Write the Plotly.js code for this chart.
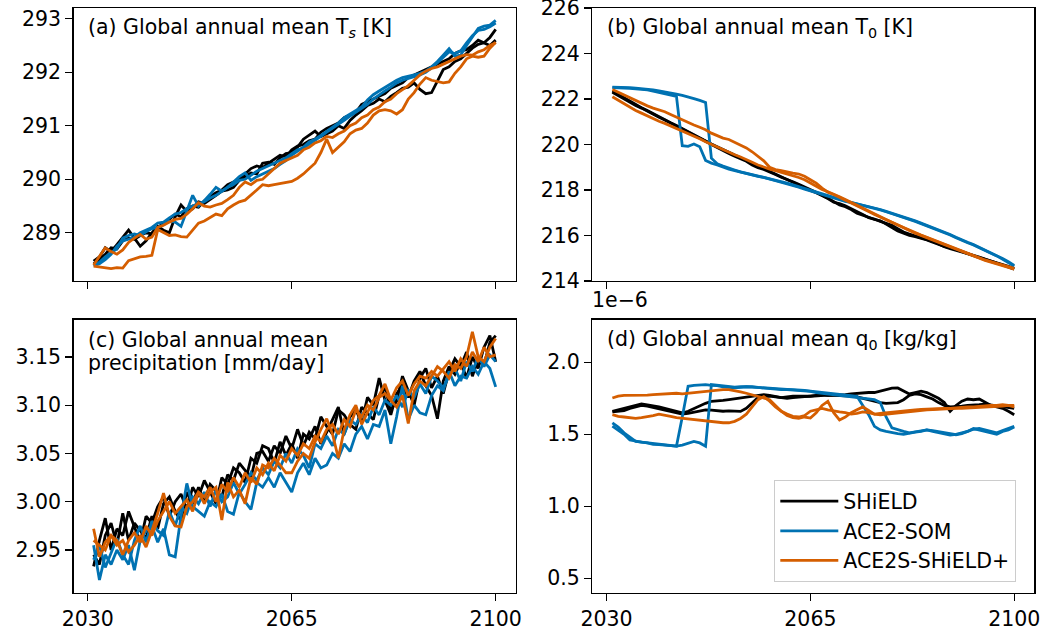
<!DOCTYPE html>
<html>
<head>
<meta charset="utf-8">
<script src="https://cdn.plot.ly/plotly-3.0.1.min.js"></script>
<style>html,body{margin:0;padding:0;background:#fff;}#chart{width:1045px;height:637px;}</style>
</head>
<body>
<div id="chart"></div>
<script>
const years = [2031,2032,2033,2034,2035,2036,2037,2038,2039,2040,
2041,2042,2043,2044,2045,2046,2047,2048,2049,2050,
2051,2052,2053,2054,2055,2056,2057,2058,2059,2060,
2061,2062,2063,2064,2065,2066,2067,2068,2069,2070,
2071,2072,2073,2074,2075,2076,2077,2078,2079,2080,
2081,2082,2083,2084,2085,2086,2087,2088,2089,2090,
2091,2092,2093,2094,2095,2096,2097,2098,2099,2100];

const modelNames = ['SHiELD', 'ACE2-SOM', 'ACE2S-SHiELD+'];
const modelColors = ['#000000', '#0072B2', '#D55E00'];
const xTickVals = [2030, 2065, 2100];

// (a) surface temperature [K]
const tsShield1 = [288.47,288.55,288.72,288.65,288.78,288.92,289.05,288.9,288.75,288.85,
289.0,289.12,289.05,289.0,289.3,289.52,289.4,289.45,289.58,289.55,
289.62,289.7,289.78,289.8,289.85,289.98,290.05,290.12,290.1,290.3,
290.32,290.28,290.4,290.48,290.5,290.6,290.75,290.82,290.9,290.8,
290.85,290.9,291.0,290.95,291.1,291.2,291.28,291.38,291.42,291.5,
291.45,291.55,291.62,291.7,291.72,291.8,291.68,291.6,291.62,291.85,
292.05,292.1,292.2,292.25,292.35,292.45,292.52,292.55,292.65,292.8];
const tsShield2 = [288.42,288.5,288.6,288.72,288.7,288.85,288.9,288.88,288.95,289.0,
288.98,289.1,289.18,289.25,289.35,289.3,289.45,289.5,289.48,289.6,
289.68,289.75,289.8,289.9,289.95,290.0,290.1,290.2,290.25,290.22,
290.3,290.38,290.45,290.42,290.55,290.62,290.65,290.72,290.75,290.88,
290.95,291.0,291.05,291.15,291.2,291.25,291.4,291.45,291.5,291.55,
291.6,291.7,291.75,291.8,291.9,291.95,292.0,292.05,292.1,292.15,
292.2,292.25,292.35,292.4,292.42,292.5,292.6,292.55,292.5,292.6];
const tsSom1 = [288.4,288.45,288.55,288.62,288.7,288.9,288.95,288.98,288.95,289.02,
289.08,289.1,289.15,289.22,289.2,289.12,289.4,289.7,289.5,289.6,
289.72,289.85,289.78,289.85,289.95,290.05,290.12,289.98,290.05,290.1,
290.15,290.2,290.28,290.35,290.45,290.52,290.6,290.7,290.75,290.82,
290.9,290.98,291.05,291.15,291.22,291.28,291.35,291.48,291.58,291.65,
291.72,291.78,291.85,291.9,291.92,291.95,291.98,292.02,292.1,292.2,
292.32,292.44,292.3,292.32,292.5,292.65,292.82,292.86,292.88,292.97];
const tsSom2 = [288.38,288.42,288.5,288.6,288.75,288.85,288.88,288.92,289.0,289.05,
289.1,289.18,289.2,289.28,289.35,289.38,289.45,289.5,289.55,289.58,
289.65,289.7,289.78,289.85,289.9,289.98,290.0,290.08,290.15,290.2,
290.25,290.3,290.35,290.4,290.48,290.55,290.58,290.65,290.72,290.8,
290.88,290.95,291.02,291.1,291.18,291.25,291.32,291.4,291.5,291.58,
291.65,291.72,291.8,291.85,291.88,291.92,291.95,292.0,292.08,292.18,
292.28,292.38,292.35,292.4,292.55,292.68,292.78,292.8,292.85,292.92];
const tsPlus1 = [288.38,288.36,288.35,288.33,288.35,288.34,288.48,288.52,288.55,288.56,
288.58,289.06,289.0,288.95,288.96,288.93,288.92,289.05,289.18,289.22,
289.28,289.35,289.32,289.45,289.52,289.58,289.61,289.7,289.8,289.9,
289.88,289.9,289.92,289.95,289.96,290.02,290.1,290.2,290.3,290.5,
290.75,290.5,290.6,290.7,290.85,290.92,290.95,291.05,291.2,291.28,
291.3,291.28,291.22,291.3,291.5,291.62,291.78,291.9,291.85,291.82,
291.8,291.82,291.98,292.1,292.25,292.3,292.28,292.3,292.45,292.56];
const tsPlus2 = [288.4,288.55,288.72,288.65,288.6,288.68,288.82,288.9,288.97,288.88,
288.92,289.1,289.14,289.2,289.25,289.27,289.35,289.45,289.56,289.5,
289.48,289.52,289.55,289.62,289.7,289.85,289.95,289.9,289.98,290.0,
290.1,290.2,290.3,290.35,290.4,290.45,290.55,290.6,290.68,290.72,
290.8,290.78,290.85,290.9,291.0,291.05,291.15,291.2,291.3,291.35,
291.45,291.5,291.6,291.68,291.75,291.85,291.95,292.02,292.07,292.1,
292.15,292.2,292.25,292.3,292.33,292.32,292.38,292.42,292.5,292.55];

// (b) top-level temperature T0 [K]
const t0Shield1 = [222.3,222.15,222.0,221.86,221.72,221.6,221.46,221.33,221.2,221.08,
220.95,220.8,220.68,220.55,220.42,220.28,220.14,220.0,219.86,219.74,
219.6,219.48,219.38,219.26,219.1,218.98,218.9,218.8,218.68,218.56,
218.47,218.36,218.25,218.14,218.0,217.9,217.78,217.64,217.5,217.34,
217.26,217.14,216.98,216.9,216.8,216.7,216.64,216.5,216.36,216.2,
216.1,216.0,215.95,215.88,215.8,215.7,215.6,215.52,215.45,215.38,
215.3,215.2,215.1,215.02,214.95,214.88,214.8,214.72,214.64,214.55];
const t0Shield2 = [222.35,222.2,222.04,221.9,221.76,221.62,221.5,221.36,221.22,221.1,
220.96,220.84,220.7,220.56,220.44,220.3,220.16,220.02,219.9,219.78,
219.64,219.52,219.4,219.3,219.16,219.04,218.92,218.82,218.7,218.58,
218.46,218.34,218.22,218.1,217.98,217.88,217.76,217.62,217.46,217.4,
217.3,217.18,217.05,216.92,216.78,216.72,216.62,216.55,216.45,216.3,
216.15,216.06,215.98,215.9,215.82,215.74,215.62,215.5,215.42,215.35,
215.28,215.2,215.12,215.05,214.96,214.86,214.78,214.7,214.62,214.52];
const t0Som1 = [222.5,222.5,222.48,222.47,222.45,222.44,222.4,222.35,222.3,222.25,
222.2,222.12,219.95,219.92,220.02,219.9,219.3,219.18,219.1,219.0,
218.92,218.85,218.78,218.72,218.65,218.6,218.55,218.48,218.42,218.35,
218.28,218.2,218.12,218.03,217.95,217.88,217.8,217.72,217.64,217.56,
217.5,217.44,217.38,217.32,217.26,217.2,217.12,217.04,216.96,216.88,
216.8,216.72,216.62,216.52,216.42,216.34,216.25,216.15,216.02,215.9,
215.78,215.68,215.58,215.45,215.34,215.22,215.1,214.96,214.82,214.65];
const t0Som2 = [222.52,222.52,222.51,222.5,222.48,222.46,222.43,222.4,222.36,222.32,
222.28,222.22,222.16,222.1,222.02,221.94,221.85,219.4,219.15,219.05,
218.95,218.88,218.8,218.74,218.67,218.62,218.56,218.5,218.44,218.37,
218.3,218.22,218.14,218.06,217.97,217.9,217.82,217.74,217.66,217.58,
217.52,217.46,217.4,217.34,217.28,217.22,217.14,217.06,216.98,216.9,
216.82,216.74,216.64,216.54,216.44,216.35,216.26,216.16,216.04,215.92,
215.8,215.7,215.6,215.48,215.36,215.24,215.12,214.98,214.84,214.68];
const t0Plus1 = [222.42,222.3,222.18,222.05,221.92,221.8,221.7,221.6,221.52,221.44,
221.32,221.2,221.1,220.98,220.86,220.76,220.65,220.5,220.38,220.28,
220.22,220.1,220.0,219.85,219.68,219.5,219.28,219.0,218.9,218.85,
218.78,218.74,218.7,218.6,218.45,218.3,218.08,217.9,217.8,217.68,
217.56,217.44,217.3,217.18,217.05,216.92,216.8,216.7,216.58,216.46,
216.35,216.24,216.12,216.02,215.92,215.82,215.72,215.62,215.5,215.4,
215.3,215.2,215.1,215.0,214.92,214.85,214.78,214.7,214.62,214.55];
const t0Plus2 = [222.1,221.95,221.8,221.62,221.5,221.38,221.25,221.12,221.02,220.93,
220.82,220.7,220.58,220.48,220.36,220.25,220.12,220.0,219.9,219.78,
219.66,219.55,219.45,219.35,219.22,219.1,219.0,218.92,218.85,218.78,
218.7,218.62,218.55,218.45,218.3,218.15,218.02,217.92,217.82,217.7,
217.58,217.45,217.32,217.2,217.08,216.95,216.82,216.7,216.58,216.45,
216.33,216.22,216.1,216.0,215.9,215.8,215.7,215.58,215.48,215.38,
215.28,215.18,215.08,214.98,214.9,214.82,214.75,214.68,214.6,214.52];

// (c) precipitation [mm/day]
const prShield1 = [2.933,2.960,2.983,2.950,2.972,2.965,2.990,2.975,2.958,2.985,
2.978,2.995,3.005,2.985,3.000,3.008,2.992,3.015,3.005,3.022,
3.010,2.998,3.025,3.018,3.035,3.030,3.020,3.045,3.040,3.058,
3.055,3.040,3.062,3.048,3.060,3.045,3.070,3.065,3.078,3.060,
3.072,3.085,3.098,3.070,3.088,3.095,3.082,3.108,3.100,3.128,
3.105,3.090,3.112,3.120,3.108,3.125,3.135,3.120,3.110,3.086,
3.125,3.140,3.132,3.145,3.128,3.150,3.138,3.160,3.172,3.145];
const prShield2 = [2.945,2.935,2.965,2.978,2.955,2.988,2.960,2.978,2.970,2.962,
2.985,2.972,2.998,3.005,2.990,2.980,3.010,2.998,3.015,3.000,
3.018,3.012,3.005,3.028,3.022,3.040,3.032,3.025,3.050,3.052,
3.042,3.058,3.050,3.068,3.055,3.075,3.058,3.072,3.065,3.088,
3.078,3.070,3.095,3.090,3.080,3.075,3.098,3.092,3.085,3.110,
3.118,3.095,3.104,3.130,3.115,3.100,3.128,3.138,3.118,3.130,
3.112,3.135,3.148,3.140,3.155,3.130,3.148,3.142,3.165,3.172];
const prSom1 = [2.955,2.919,2.945,2.935,2.950,2.940,2.955,2.929,2.960,2.970,
2.975,2.958,2.972,2.945,2.943,2.985,3.019,2.995,2.990,2.985,
3.000,2.995,3.008,2.990,2.987,3.010,3.000,2.992,3.020,3.015,
3.025,3.015,3.030,3.020,3.010,3.030,3.040,3.028,3.045,3.035,
3.038,3.050,3.045,3.060,3.052,3.070,3.078,3.065,3.080,3.078,
3.095,3.060,3.088,3.120,3.085,3.100,3.092,3.090,3.110,3.120,
3.115,3.135,3.120,3.130,3.128,3.140,3.132,3.145,3.138,3.119];
const prSom2 = [2.940,2.955,2.932,2.948,2.962,2.945,2.935,2.960,2.975,2.958,
2.980,2.970,2.965,2.990,2.975,2.995,2.988,3.005,2.998,3.010,
2.995,3.012,3.000,3.005,3.020,3.008,3.018,3.030,3.022,3.035,
3.028,3.042,3.035,3.050,3.040,3.055,3.048,3.035,3.060,3.055,
3.068,3.058,3.075,3.070,3.085,3.080,3.090,3.082,3.098,3.090,
3.105,3.100,3.110,3.098,3.115,3.108,3.122,3.112,3.130,3.125,
3.118,3.130,3.138,3.125,3.145,3.135,3.150,3.140,3.152,3.145];
const prPlus1 = [2.972,2.943,2.958,2.965,2.955,2.960,2.948,2.955,2.965,2.953,
2.970,2.988,3.009,2.985,2.975,2.974,2.995,3.000,3.010,2.998,
3.010,3.015,2.981,3.020,3.005,3.012,2.998,3.025,3.018,3.038,
3.035,3.045,3.038,3.030,3.030,3.042,3.050,3.045,3.062,3.075,
3.086,3.070,3.045,3.075,3.090,3.100,3.080,3.092,3.105,3.110,
3.122,3.105,3.098,3.110,3.081,3.115,3.125,3.120,3.130,3.140,
3.135,3.128,3.142,3.138,3.150,3.176,3.150,3.145,3.160,3.169];
const prPlus2 = [2.960,2.955,2.950,2.965,2.960,2.945,2.960,2.968,2.958,2.975,
2.965,2.980,2.990,3.000,2.988,2.995,3.002,2.990,3.010,3.005,
3.015,3.000,3.018,3.010,3.025,3.015,3.030,3.020,3.035,3.028,
3.040,3.032,3.048,3.042,3.055,3.048,3.060,3.055,3.068,3.062,
3.075,3.080,3.070,3.085,3.078,3.095,3.088,3.100,3.095,3.108,
3.112,3.105,3.118,3.125,3.110,3.122,3.130,3.128,3.135,3.130,
3.138,3.145,3.135,3.148,3.140,3.155,3.145,3.160,3.150,3.152];

// (d) top-level specific humidity q0, in units of 1e-6 kg/kg
const q0Scale = '1e\u22126';
const q0Shield1 = [1.66,1.67,1.68,1.69,1.70,1.71,1.705,1.70,1.69,1.68,
1.67,1.655,1.648,1.66,1.68,1.70,1.715,1.729,1.73,1.735,
1.74,1.745,1.75,1.755,1.764,1.77,1.775,1.77,1.76,1.755,
1.76,1.765,1.764,1.764,1.765,1.77,1.775,1.77,1.772,1.77,
1.775,1.78,1.785,1.79,1.79,1.79,1.80,1.81,1.82,1.822,
1.80,1.78,1.79,1.80,1.79,1.77,1.75,1.72,1.66,1.70,
1.73,1.745,1.74,1.745,1.72,1.70,1.69,1.68,1.66,1.636];
const q0Shield2 = [1.655,1.66,1.665,1.68,1.69,1.70,1.695,1.685,1.675,1.665,
1.66,1.65,1.64,1.645,1.655,1.665,1.67,1.668,1.662,1.66,
1.662,1.66,1.659,1.68,1.72,1.755,1.764,1.765,1.76,1.755,
1.75,1.755,1.76,1.762,1.764,1.768,1.77,1.772,1.77,1.768,
1.77,1.765,1.76,1.75,1.735,1.725,1.72,1.715,1.717,1.72,
1.74,1.77,1.78,1.775,1.76,1.745,1.72,1.70,1.69,1.69,
1.695,1.70,1.70,1.705,1.71,1.705,1.695,1.69,1.685,1.68];
const q0Som1 = [1.579,1.55,1.51,1.48,1.45,1.445,1.44,1.435,1.43,1.428,
1.42,1.417,1.62,1.833,1.84,1.845,1.845,1.84,1.838,1.83,
1.825,1.822,1.825,1.83,1.828,1.825,1.82,1.818,1.815,1.815,
1.812,1.81,1.81,1.805,1.80,1.795,1.79,1.785,1.78,1.775,
1.77,1.768,1.764,1.70,1.636,1.555,1.53,1.52,1.51,1.505,
1.50,1.51,1.515,1.52,1.53,1.525,1.52,1.515,1.505,1.497,
1.505,1.52,1.535,1.54,1.53,1.52,1.51,1.525,1.54,1.556];
const q0Som2 = [1.556,1.53,1.50,1.46,1.45,1.445,1.44,1.43,1.428,1.425,
1.42,1.418,1.425,1.44,1.45,1.44,1.417,1.845,1.84,1.835,
1.83,1.828,1.83,1.832,1.83,1.825,1.82,1.815,1.812,1.81,
1.81,1.808,1.805,1.80,1.798,1.79,1.785,1.78,1.778,1.775,
1.77,1.765,1.76,1.755,1.75,1.74,1.72,1.62,1.544,1.53,
1.52,1.51,1.515,1.52,1.53,1.52,1.51,1.50,1.495,1.50,
1.51,1.52,1.54,1.53,1.52,1.51,1.50,1.52,1.53,1.55];
const q0Plus1 = [1.752,1.765,1.77,1.77,1.768,1.77,1.772,1.775,1.778,1.78,
1.782,1.785,1.78,1.785,1.79,1.795,1.80,1.805,1.81,1.81,
1.81,1.805,1.795,1.785,1.775,1.765,1.752,1.74,1.70,1.66,
1.63,1.615,1.61,1.62,1.613,1.65,1.70,1.729,1.65,1.60,
1.62,1.65,1.67,1.69,1.665,1.64,1.635,1.64,1.645,1.65,
1.655,1.66,1.665,1.67,1.67,1.672,1.675,1.675,1.68,1.68,
1.68,1.682,1.685,1.685,1.69,1.69,1.69,1.695,1.70,1.69];
const q0Plus2 = [1.636,1.625,1.62,1.615,1.61,1.615,1.62,1.63,1.64,1.635,
1.625,1.615,1.61,1.605,1.60,1.595,1.59,1.59,1.585,1.58,
1.58,1.59,1.61,1.64,1.69,1.74,1.762,1.73,1.69,1.66,
1.64,1.625,1.62,1.63,1.66,1.67,1.68,1.67,1.66,1.655,
1.65,1.64,1.645,1.655,1.65,1.64,1.645,1.65,1.655,1.66,
1.665,1.665,1.67,1.672,1.675,1.675,1.678,1.68,1.68,1.685,
1.685,1.69,1.69,1.695,1.695,1.70,1.70,1.705,1.70,1.70];

const panels = [
  {xa: 'x', ya: 'y', series: [[tsShield1, tsShield2], [tsSom1, tsSom2], [tsPlus1, tsPlus2]]},
  {xa: 'x2', ya: 'y2', series: [[t0Shield1, t0Shield2], [t0Som1, t0Som2], [t0Plus1, t0Plus2]]},
  {xa: 'x3', ya: 'y3', series: [[prShield1, prShield2], [prSom1, prSom2], [prPlus1, prPlus2]]},
  {xa: 'x4', ya: 'y4', series: [[q0Shield1, q0Shield2], [q0Som1, q0Som2], [q0Plus1, q0Plus2]]}
];

const traces = [];
panels.forEach((p, pi) => {
  p.series.forEach((members, mi) => {
    members.forEach((vals, k) => {
      traces.push({
        x: years, y: vals, xaxis: p.xa, yaxis: p.ya,
        type: 'scatter', mode: 'lines',
        name: modelNames[mi], legendgroup: modelNames[mi],
        showlegend: (pi === 0 && k === 0),
        line: {color: modelColors[mi], width: 2.8},
        hoverinfo: 'skip'
      });
    });
  });
});

const W = 1045, H = 637;
const px = v => v / W;
const py = v => (H - v) / H;
const colL = [px(73.5), px(515.8)];
const colR = [px(592.3), px(1034.3)];
const rowT = [py(281), py(8)];
const rowB = [py(592.7), py(319.5)];

const FONT = 'DejaVu Sans, Verdana, sans-serif';
const FS = 20.5;

function xAxis(domain, anchor, labels) {
  return {
    domain: domain, anchor: anchor, range: [2027.55, 2103.45],
    tickmode: 'array', tickvals: xTickVals, ticktext: xTickVals.map(String),
    showticklabels: labels, ticks: 'outside', ticklen: 7, tickwidth: 1.3, tickcolor: '#000',
    showline: true, mirror: true, linecolor: '#000', linewidth: 1.3,
    showgrid: false, zeroline: false,
    tickfont: {family: FONT, size: FS, color: '#000'}
  };
}
function yAxis(domain, anchor, range, tickvals, fmt) {
  return {
    domain: domain, anchor: anchor, range: range,
    tickmode: 'array', tickvals: tickvals, ticktext: tickvals.map(v => v.toFixed(fmt)),
    ticks: 'outside', ticklen: 7, tickwidth: 1.3, tickcolor: '#000',
    ticklabeloverflow: 'allow',
    showline: true, mirror: true, linecolor: '#000', linewidth: 1.3,
    showgrid: false, zeroline: false,
    tickfont: {family: FONT, size: FS, color: '#000'}
  };
}

function label(text, x, y) {
  return {text: text, xref: 'paper', yref: 'paper', x: px(x), y: py(y),
    xanchor: 'left', yanchor: 'middle', showarrow: false,
    font: {family: FONT, size: FS, color: '#000'}};
}

const layout = {
  width: W, height: H,
  margin: {l: 0, r: 0, t: 0, b: 0},
  paper_bgcolor: '#fff', plot_bgcolor: '#fff',
  font: {family: FONT, size: FS, color: '#000'},
  xaxis: xAxis(colL, 'y', false),
  yaxis: yAxis(rowT, 'x', [288.1, 293.2], [289, 290, 291, 292, 293], 0),
  xaxis2: xAxis(colR, 'y2', false),
  yaxis2: yAxis(rowT, 'x2', [213.995, 226.005], [214, 216, 218, 220, 222, 224, 226], 0),
  xaxis3: xAxis(colL, 'y3', true),
  yaxis3: yAxis(rowB, 'x3', [2.9058, 3.1887], [2.95, 3.00, 3.05, 3.10, 3.15], 2),
  xaxis4: xAxis(colR, 'y4', true),
  yaxis4: yAxis(rowB, 'x4', [0.4, 2.297], [0.5, 1.0, 1.5, 2.0], 1),
  showlegend: true,
  legend: {
    x: px(774), y: py(582), xanchor: 'left', yanchor: 'bottom',
    bgcolor: 'rgba(255,255,255,0.85)', bordercolor: '#cccccc', borderwidth: 1.3,
    font: {family: FONT, size: FS, color: '#000'},
    itemwidth: 58,
    tracegroupgap: 0
  },
  annotations: [
    label('(a) Global annual mean T<sub><i>s</i></sub> [K]', 86, 28),
    label('(b) Global annual mean T<sub>0</sub> [K]', 605, 28),
    label('(c) Global annual mean', 86, 340),
    label('precipitation [mm/day]', 86, 363),
    label('(d) Global annual mean q<sub>0</sub> [kg/kg]', 605, 340),
    label(q0Scale, 590, 300)
  ]
};

Plotly.newPlot('chart', traces, layout, {staticPlot: true, displayModeBar: false});
</script>
</body>
</html>
